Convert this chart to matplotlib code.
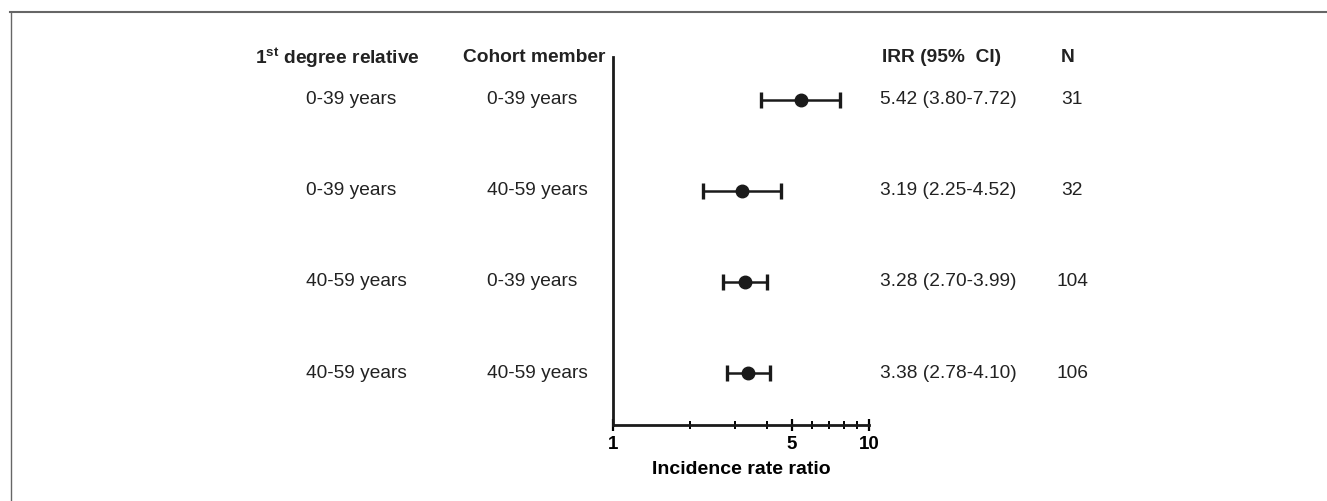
import matplotlib.pyplot as plt
import matplotlib.transforms as mtransforms
from matplotlib.lines import Line2D
from matplotlib.ticker import FixedLocator, NullFormatter, FixedFormatter

plt.rcParams['font.family'] = ['Liberation Sans', 'DejaVu Sans']
plt.rcParams['mathtext.fontset'] = 'custom'
plt.rcParams['mathtext.rm'] = 'Liberation Sans'
plt.rcParams['mathtext.bf'] = 'Liberation Sans:bold'

relative = ['0-39 years', '0-39 years', '40-59 years', '40-59 years']
member = ['0-39 years', '40-59 years', '0-39 years', '40-59 years']
irr = [5.42, 3.19, 3.28, 3.38]
lo = [3.80, 2.25, 2.70, 2.78]
hi = [7.72, 4.52, 3.99, 4.10]
n = [31, 32, 104, 106]

W, H = 1327, 501
fig = plt.figure(figsize=(W / 100, H / 100), dpi=100)
ax = fig.add_axes([613 / W, 1 - 425 / H, 256 / W, 368 / H])

rows = list(range(len(irr)))
err = [[v - l for v, l in zip(irr, lo)], [h - v for v, h in zip(irr, hi)]]
ax.errorbar(irr, rows, xerr=err, fmt='o', color='#1a1a1a', ms=9,
            elinewidth=1.8, capsize=5.5, capthick=2.4)

ax.set_xscale('log')
ax.set_xlim(1, 10)
ax.set_ylim(3.57, -0.47)
ax.xaxis.set_major_locator(FixedLocator([1, 5, 10]))
ax.xaxis.set_major_formatter(FixedFormatter(['1', '5', '10']))
ax.xaxis.set_minor_locator(FixedLocator([2, 3, 4, 6, 7, 8, 9]))
ax.xaxis.set_minor_formatter(NullFormatter())
ax.tick_params(axis='x', which='major', direction='inout', length=8, width=1.6,
               labelsize=13.5, pad=4)
ax.tick_params(axis='x', which='minor', direction='inout', length=6, width=1.4)
for lab in ax.get_xticklabels():
    lab.set_fontweight('bold')
ax.set_yticks([])
for s in ['top', 'right']:
    ax.spines[s].set_visible(False)
for s in ['left', 'bottom']:
    ax.spines[s].set_linewidth(2)
    ax.spines[s].set_color('#1a1a1a')
ax.set_xlabel('Incidence rate ratio', fontsize=14, fontweight='bold', labelpad=6)

tr = mtransforms.blended_transform_factory(fig.transFigure, ax.transData)
fs = 13.8
tc = '#222222'


def fx(px):
    return px / W


hy = 1 - 58 / H
fig.text(fx(337), hy, r'$\mathbf{1^{st}}$ degree relative', ha='center', va='center',
         fontsize=fs, fontweight='bold', color=tc)
fig.text(fx(534), hy, 'Cohort member', ha='center', va='center',
         fontsize=fs, fontweight='bold', color=tc)
fig.text(fx(882), hy, 'IRR (95%  CI)', ha='left', va='center',
         fontsize=fs, fontweight='bold', color=tc)
fig.text(fx(1068), hy, 'N', ha='center', va='center',
         fontsize=fs, fontweight='bold', color=tc)

for i in rows:
    ax.text(fx(306), i, relative[i], transform=tr, ha='left', va='center', fontsize=fs,
            color=tc)
    ax.text(fx(487), i, member[i], transform=tr, ha='left', va='center', fontsize=fs,
            color=tc)
    ax.text(fx(880), i, f'{irr[i]:.2f} ({lo[i]:.2f}-{hi[i]:.2f})', transform=tr,
            ha='left', va='center', fontsize=fs, color=tc)
    ax.text(fx(1072), i, str(n[i]), transform=tr, ha='center', va='center', fontsize=fs,
            color=tc)

# frame lines along top and left edge
fig.add_artist(Line2D([10 / W, 1], [1 - 11.5 / H, 1 - 11.5 / H], transform=fig.transFigure,
                      color='#666666', lw=1.5))
fig.add_artist(Line2D([10.5 / W, 10.5 / W], [0, 1 - 11.5 / H], transform=fig.transFigure,
                      color='#666666', lw=1.0))

fig.savefig('out.png', dpi=100)
